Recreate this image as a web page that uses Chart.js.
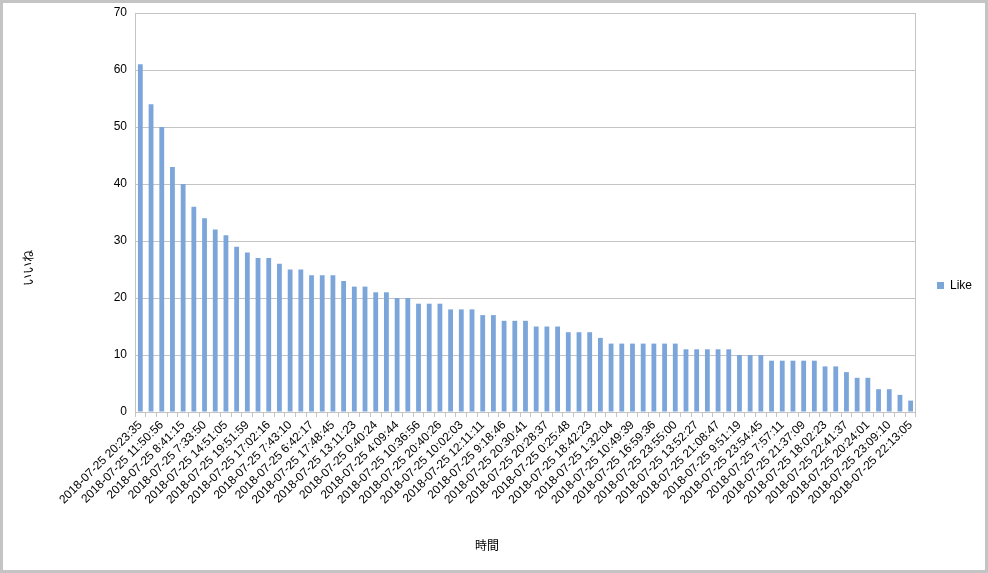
<!DOCTYPE html>
<html>
<head>
<meta charset="utf-8">
<script src="https://cdn.jsdelivr.net/npm/chart.js@4/dist/chart.umd.min.js"></script>
<style>
  html, body { margin: 0; padding: 0; background: #fff; }
  #wrap { width: 988px; height: 573px; box-sizing: border-box; border: 3px solid #c4c4c4; background: #fff; }
  canvas { display: block; }
</style>
</head>
<body>
<div id="wrap"><canvas id="c" width="982" height="567"></canvas></div>
<script>
// いいね数（降順）
const likes = [61, 54, 50, 43, 40, 36, 34, 32, 31, 29, 28, 27, 27, 26, 25, 25, 24, 24, 24, 23,
  22, 22, 21, 21, 20, 20, 19, 19, 19, 18, 18, 18, 17, 17, 16, 16, 16, 15, 15, 15,
  14, 14, 14, 13, 12, 12, 12, 12, 12, 12, 12, 11, 11, 11, 11, 11, 10, 10, 10, 9,
  9, 9, 9, 9, 8, 8, 7, 6, 6, 4, 4, 3, 2];

// labels shown on every other bar (the others are hidden in the original)
const shownTimes = ['2018-07-25 20:23:35', '2018-07-25 11:50:56', '2018-07-25 8:41:15', '2018-07-25 7:33:50',
  '2018-07-25 14:51:05', '2018-07-25 19:51:59', '2018-07-25 17:02:16', '2018-07-25 7:43:10',
  '2018-07-25 6:42:17', '2018-07-25 17:48:45', '2018-07-25 13:11:23', '2018-07-25 0:40:24',
  '2018-07-25 4:09:44', '2018-07-25 10:36:56', '2018-07-25 20:40:26', '2018-07-25 10:02:03',
  '2018-07-25 12:11:11', '2018-07-25 9:18:46', '2018-07-25 20:30:41', '2018-07-25 20:28:37',
  '2018-07-25 0:25:48', '2018-07-25 18:42:23', '2018-07-25 1:32:04', '2018-07-25 10:49:39',
  '2018-07-25 16:59:36', '2018-07-25 23:55:00', '2018-07-25 13:52:27', '2018-07-25 21:08:47',
  '2018-07-25 9:51:19', '2018-07-25 23:54:45', '2018-07-25 7:57:11', '2018-07-25 21:37:09',
  '2018-07-25 18:02:23', '2018-07-25 22:41:37', '2018-07-25 20:24:01', '2018-07-25 23:09:10',
  '2018-07-25 22:13:05'];

const yTicks = [0, 10, 20, 30, 40, 50, 60, 70];

const labels = likes.map((_, i) => (i % 2 === 0 ? shownTimes[i / 2] : ''));

const FONT = "'Liberation Sans', Arial, sans-serif";
const JP_FONT = "'Noto Sans CJK JP', sans-serif";
const GRID = '#c4c4c4';
const BAR = '#7ca6da';

// axis titles placed like Excel does (centred on the whole chart, not the plot)
const axisTitles = {
  id: 'axisTitles',
  afterDraw(chart) {
    const ctx = chart.ctx;
    ctx.save();
    ctx.fillStyle = '#000';
    ctx.font = '12px ' + JP_FONT;
    ctx.textAlign = 'center';
    ctx.textBaseline = 'middle';
    ctx.fillText('時間', 484, 542);
    ctx.translate(25, 265);
    ctx.rotate(-Math.PI / 2);
    ctx.fillText('いいね', 0, 0);
    ctx.restore();
  }
};

new Chart(document.getElementById('c'), {
  type: 'bar',
  data: {
    labels,
    datasets: [{
      label: 'Like',
      data: likes,
      backgroundColor: BAR,
      borderWidth: 0,
      barPercentage: 0.45,
      categoryPercentage: 1
    }]
  },
  options: {
    responsive: false,
    animation: false,
    devicePixelRatio: 1,
    layout: { padding: { top: 10, right: 3, left: 0, bottom: 12 } },
    plugins: {
      legend: {
        position: 'right',
        labels: {
          color: '#000',
          font: { family: FONT, size: 12 },
          boxWidth: 7,
          boxHeight: 7,
          padding: 21
        }
      },
      tooltip: { enabled: false }
    },
    scales: {
      x: {
        grid: { offset: true, drawOnChartArea: false, color: GRID, tickLength: 5 },
        border: { color: GRID },
        ticks: {
          autoSkip: false,
          minRotation: 45,
          maxRotation: 45,
          padding: 1,
          color: '#000',
          font: { family: FONT, size: 12 }
        },
        afterFit: s => { s.height = 146; }
      },
      y: {
        min: 0,
        max: 70,
        afterBuildTicks: s => { s.ticks = yTicks.map(v => ({ value: v })); },
        grid: { color: GRID, drawTicks: false },
        border: { color: GRID },
        ticks: { color: '#000', padding: 8, font: { family: FONT, size: 12 } },
        afterFit: s => { s.width = 132; s.paddingTop = 0; }
      },
      // right edge of the plot area
      yRight: {
        position: 'right',
        min: 0,
        max: 70,
        grid: { display: false },
        border: { color: GRID },
        ticks: { display: false },
        afterFit: s => { s.width = 0; }
      }
    }
  },
  plugins: [axisTitles]
});
</script>
</body>
</html>
